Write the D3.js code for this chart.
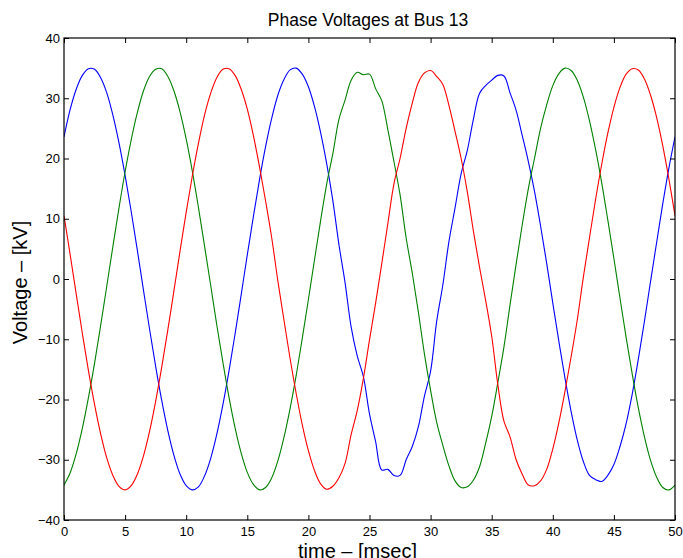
<!DOCTYPE html>
<html>
<head>
<meta charset="utf-8">
<script src="https://cdn.jsdelivr.net/npm/d3@7"></script>
<style>
  html, body { margin: 0; padding: 0; background: #fff; }
  svg { display: block; font-family: "Liberation Sans", Arial, Helvetica, sans-serif; }
</style>
</head>
<body>
<svg id="chart" width="683" height="558"></svg>
<script>
// Sample times, msec
const timeMs = [
  0, 0.5, 1, 1.5, 2, 2.5, 3, 3.5, 4, 4.5, 5, 5.5, 6, 6.5, 7, 7.5, 8, 8.5, 9, 9.5,
  10, 10.5, 11, 11.5, 12, 12.5, 13, 13.5, 14, 14.5, 15, 15.5, 16, 16.5, 17, 17.5, 18, 18.5, 19, 19.5,
  20, 20.5, 21, 21.5, 22, 22.5, 23, 23.5, 24, 24.5, 25, 25.5, 26, 26.5, 27, 27.5, 28, 28.5, 29, 29.5,
  30, 30.5, 31, 31.5, 32, 32.5, 33, 33.5, 34, 34.5, 35, 35.5, 36, 36.5, 37, 37.5, 38, 38.5, 39, 39.5,
  40, 40.5, 41, 41.5, 42, 42.5, 43, 43.5, 44, 44.5, 45, 45.5, 46, 46.5, 47, 47.5, 48, 48.5, 49, 49.5, 50
];

// Phase voltages, kV
const phaseBlue = [
  23.6, 28.1, 31.5, 33.8, 34.9, 34.8, 33.4, 30.9, 27.2, 22.6,
  17.2, 11.2, 4.8, -1.8, -8.3, -14.5, -20.2, -25.2, -29.3, -32.4,
  -34.3, -35.0, -34.5, -32.7, -29.8, -25.8, -20.9, -15.3, -9.1, -2.6,
  4.0, 10.4, 16.5, 22.0, 26.7, 30.5, 33.1, 34.7, 35.0, 34.0,
  31.9, 28.6, 24.3, 19.1, 13.0, 5.7, -0.6, -8.0, -12.8, -16.2,
  -22.4, -27.0, -31.7, -31.6, -32.6, -32.6, -30.0, -27.8, -24.5, -19.4,
  -15.3, -7.0, -1.0, 6.2, 11.8, 17.5, 21.3, 26.5, 30.8, 32.1,
  33.0, 33.8, 33.7, 30.9, 28.0, 23.8, 19.5, 14.6, 8.8, 2.6,
  -4.0, -10.4, -16.5, -22.0, -26.7, -30.3, -32.6, -33.3, -33.6, -32.6,
  -30.8, -27.8, -24.0, -19.1, -13.3, -7.0, -0.4, 6.1, 12.5, 18.4,
  23.6
];

const phaseGreen = [
  -34.2, -32.2, -29.0, -24.8, -19.7, -14.0, -7.7, -1.2, 5.4, 11.8,
  17.8, 23.1, 27.6, 31.2, 33.6, 34.8, 34.9, 33.6, 31.2, 27.7,
  23.2, 17.9, 11.9, 5.5, -1.0, -7.6, -13.8, -19.6, -24.7, -28.9,
  -32.1, -34.1, -35.0, -34.6, -33.0, -30.2, -26.3, -21.5, -16.0, -9.8,
  -3.4, 3.2, 9.7, 15.8, 20.8, 26.5, 29.7, 33.0, 34.3, 33.9,
  34.0, 31.6, 29.6, 24.8, 19.5, 14.0, 6.8, 1.0, -5.5, -12.5,
  -18.5, -23.8, -27.6, -31.0, -33.5, -34.6, -34.5, -33.4, -31.2, -27.3,
  -22.8, -17.2, -11.3, -4.3, 2.5, 9.0, 15.0, 20.0, 25.0, 28.9,
  32.1, 34.1, 35.0, 34.6, 33.0, 30.2, 26.3, 21.5, 16.0, 9.8,
  3.4, -3.2, -9.7, -15.8, -21.4, -26.2, -30.1, -32.9, -34.6, -35.0,
  -34.2
];

const phaseRed = [
  10.5, 4.1, -2.5, -9.0, -15.2, -20.8, -25.7, -29.7, -32.6, -34.4,
  -35.0, -34.3, -32.4, -29.4, -25.3, -20.3, -14.6, -8.4, -1.9, 4.7,
  11.1, 17.1, 22.5, 27.2, 30.8, 33.4, 34.8, 34.9, 33.8, 31.5,
  28.2, 23.8, 18.6, 12.9, 6.8, -0.3, -6.8, -13.2, -19.0, -24.2,
  -28.5, -31.8, -34.0, -34.9, -34.4, -33.0, -30.6, -25.8, -21.8, -16.5,
  -10.1, -4.0, 2.5, 9.2, 15.8, 20.0, 25.0, 29.2, 32.6, 34.2,
  34.6, 33.6, 32.3, 28.8, 24.5, 20.0, 14.5, 8.0, 2.0, -3.5,
  -9.5, -17.5, -23.6, -26.2, -30.0, -32.4, -34.2, -34.3, -33.5, -31.6,
  -28.2, -23.8, -18.6, -12.9, -6.8, 0.3, 6.8, 13.2, 19.0, 24.2,
  28.5, 31.8, 34.0, 34.9, 34.7, 33.2, 30.5, 26.8, 22.1, 16.6,
  10.5
];

const seriesList = [
  { name: "Phase C", values: phaseBlue, color: "#0000ff" },
  { name: "Phase B", values: phaseGreen, color: "#008000" },
  { name: "Phase A", values: phaseRed, color: "#ff0000" }
];

const xTicks = [0, 5, 10, 15, 20, 25, 30, 35, 40, 45, 50];
const yTicks = [-40, -30, -20, -10, 0, 10, 20, 30, 40];

const titleText = "Phase Voltages at Bus 13";
const xLabelText = "time \u2013 [msec]";
const yLabelText = "Voltage \u2013 [kV]";

const plot = { left: 64, right: 675, top: 38, bottom: 520 };

const svg = d3.select("#chart");

const x = d3.scaleLinear().domain([0, 50]).range([plot.left, plot.right]);
const y = d3.scaleLinear().domain([-40, 40]).range([plot.bottom, plot.top]);

const fmt = d => (d < 0 ? "\u2212" + Math.abs(d) : String(d));

svg.append("defs").append("clipPath").attr("id", "plotClip")
  .append("rect")
  .attr("x", plot.left).attr("y", plot.top)
  .attr("width", plot.right - plot.left).attr("height", plot.bottom - plot.top);

// Voltage traces
const line = d3.line()
  .x((d, i) => x(timeMs[i]))
  .y(d => y(d))
  .curve(d3.curveCatmullRom.alpha(0.5));

svg.append("g").attr("clip-path", "url(#plotClip)")
  .selectAll("path")
  .data(seriesList)
  .join("path")
  .attr("fill", "none")
  .attr("stroke", d => d.color)
  .attr("stroke-width", 1.1)
  .attr("stroke-linejoin", "round")
  .attr("d", d => line(d.values));

// Axes with inward ticks on all four sides
function styleAxis(g) {
  g.select(".domain").remove();
  g.selectAll(".tick line").attr("stroke", "#000").attr("stroke-width", 1);
  g.selectAll(".tick text").attr("fill", "#000").attr("font-size", 13);
}

svg.append("g")
  .attr("transform", `translate(0,${plot.bottom})`)
  .call(d3.axisBottom(x).tickValues(xTicks).tickSize(-5).tickSizeOuter(0).tickPadding(7).tickFormat(fmt))
  .call(styleAxis);

svg.append("g")
  .attr("transform", `translate(0,${plot.top})`)
  .call(d3.axisTop(x).tickValues(xTicks).tickSize(-5).tickSizeOuter(0).tickFormat(""))
  .call(styleAxis);

svg.append("g")
  .attr("transform", `translate(${plot.left},0)`)
  .call(d3.axisLeft(y).tickValues(yTicks).tickSize(-5).tickSizeOuter(0).tickPadding(4).tickFormat(fmt))
  .call(styleAxis);

svg.append("g")
  .attr("transform", `translate(${plot.right},0)`)
  .call(d3.axisRight(y).tickValues(yTicks).tickSize(-5).tickSizeOuter(0).tickFormat(""))
  .call(styleAxis);

svg.append("rect")
  .attr("x", plot.left).attr("y", plot.top)
  .attr("width", plot.right - plot.left).attr("height", plot.bottom - plot.top)
  .attr("fill", "none").attr("stroke", "#000").attr("stroke-width", 1.2);

// Title and axis labels
svg.append("text")
  .attr("x", 368).attr("y", 26)
  .attr("text-anchor", "middle").attr("font-size", 17.5)
  .text(titleText);

svg.append("text")
  .attr("x", 357.5).attr("y", 558)
  .attr("text-anchor", "middle").attr("font-size", 20)
  .text(xLabelText);

svg.append("text")
  .attr("transform", "translate(27,282.5) rotate(-90)")
  .attr("text-anchor", "middle").attr("font-size", 20)
  .text(yLabelText);
</script>
</body>
</html>
